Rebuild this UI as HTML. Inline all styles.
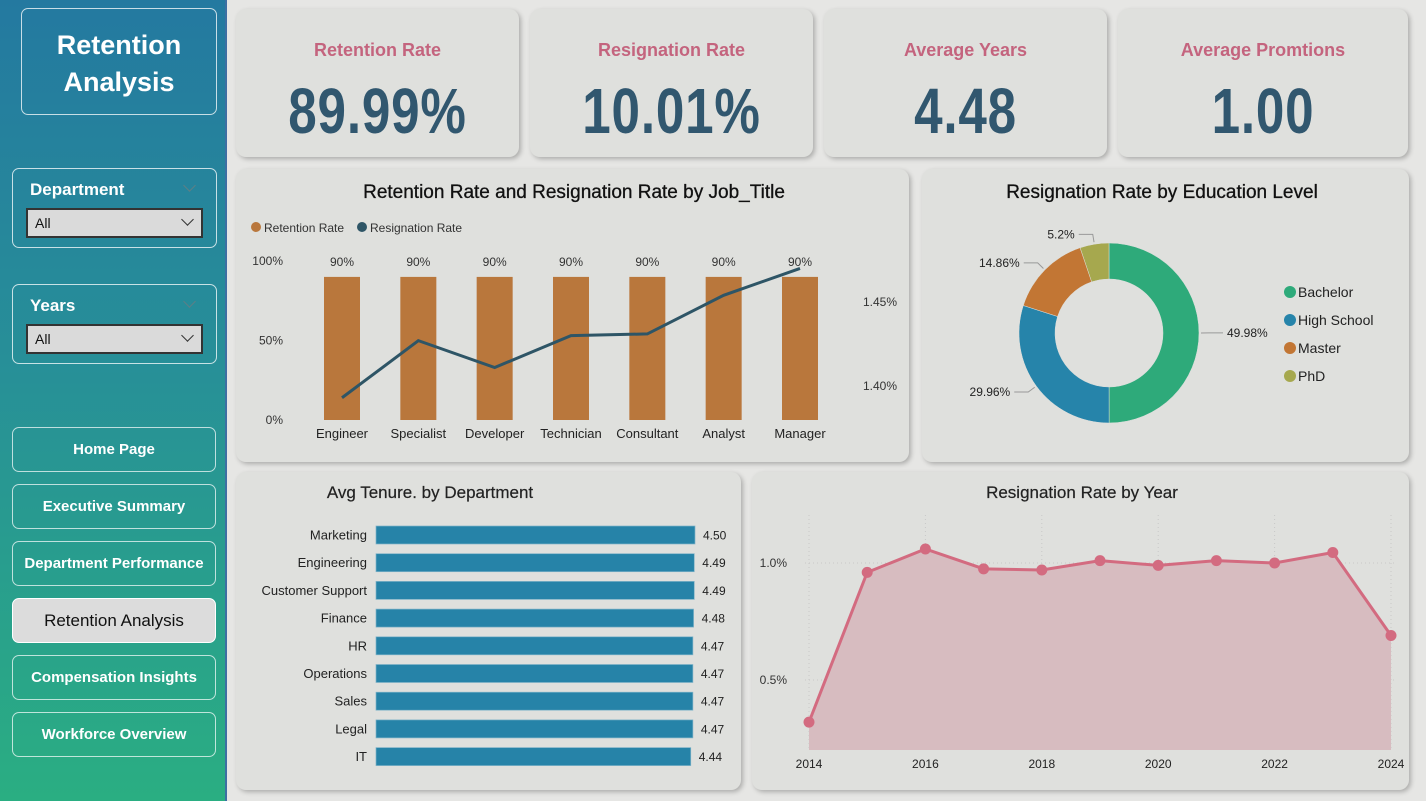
<!DOCTYPE html>
<html><head><meta charset="utf-8">
<style>
*{box-sizing:border-box;margin:0;padding:0}
body{width:1426px;height:801px;overflow:hidden;background:#e6e6e4;font-family:"Liberation Sans",sans-serif;position:relative}
.abs{position:absolute}
#side{left:0;top:0;width:227px;height:801px;background:linear-gradient(180deg,#2479a0 0%,#278f98 45%,#2aae82 100%);border-right:2px solid #3d6fa3}
.box{position:absolute;border:1px solid rgba(255,255,255,.75);border-radius:7px}
.card{position:absolute;background:#dfe0dd;border-radius:10px;box-shadow:2px 2px 5px rgba(0,0,0,.25)}
.kt{position:absolute;left:0;right:0;top:31px;text-align:center;color:#c4647e;font-weight:bold;font-size:18px}
.kv{position:absolute;left:0;right:0;top:64px;text-align:center;color:#31576f;font-weight:bold;font-size:64px;line-height:76px;transform:scaleX(0.8);letter-spacing:1px}
.btn{position:absolute;left:12px;width:204px;height:45px;border:1px solid rgba(255,255,255,.7);border-radius:7px;color:#fff;font-weight:bold;font-size:15px;text-align:center;line-height:44px}
.dd{position:absolute;left:13px;width:177px;height:30px;background:#dadada;border:2px solid #333;font-size:14px;line-height:26px;padding-left:7px;color:#111}
.lab{position:absolute;left:17px;color:#fff;font-weight:bold;font-size:17px}
.chev{position:absolute;width:9px;height:9px;border-right:1.5px solid #333;border-bottom:1.5px solid #333;transform:rotate(45deg)}
svg text{font-family:"Liberation Sans",sans-serif}
</style></head><body>
<div id="side" class="abs">
  <div class="box" style="left:21px;top:8px;width:196px;height:107px">
    <div style="color:#fff;font-weight:bold;font-size:27px;text-align:center;line-height:37px;margin-top:18px">Retention<br>Analysis</div>
  </div>
  <div class="box" style="left:12px;top:168px;width:205px;height:80px">
    <div class="lab" style="top:11px">Department</div>
    <div class="chev" style="right:22px;top:12px;border-color:#5d7f86"></div>
    <div class="dd" style="top:39px">All<span class="chev" style="right:9px;top:5px"></span></div>
  </div>
  <div class="box" style="left:12px;top:284px;width:205px;height:80px">
    <div class="lab" style="top:11px">Years</div>
    <div class="chev" style="right:22px;top:12px;border-color:#5d7f86"></div>
    <div class="dd" style="top:39px">All<span class="chev" style="right:9px;top:5px"></span></div>
  </div>
  <div class="btn" style="top:427px">Home Page</div>
  <div class="btn" style="top:484px">Executive Summary</div>
  <div class="btn" style="top:541px">Department Performance</div>
  <div class="btn" style="top:598px;background:#dcdcdc;color:#111;font-weight:normal;font-size:17px;border-color:#fff">Retention Analysis</div>
  <div class="btn" style="top:655px">Compensation Insights</div>
  <div class="btn" style="top:712px">Workforce Overview</div>
</div>

<div class="card" style="left:236px;top:9px;width:283px;height:148px"><div class="kt">Retention Rate</div><div class="kv">89.99%</div></div>
<div class="card" style="left:530px;top:9px;width:283px;height:148px"><div class="kt">Resignation Rate</div><div class="kv">10.01%</div></div>
<div class="card" style="left:824px;top:9px;width:283px;height:148px"><div class="kt">Average Years</div><div class="kv">4.48</div></div>
<div class="card" style="left:1118px;top:9px;width:290px;height:148px"><div class="kt">Average Promtions</div><div class="kv">1.00</div></div>

<div class="card" style="left:236px;top:169px;width:673px;height:293px"></div>
<div class="card" style="left:922px;top:169px;width:487px;height:293px"></div>
<div class="card" style="left:236px;top:472px;width:505px;height:318px"></div>
<div class="card" style="left:752px;top:472px;width:657px;height:318px"></div>

<svg id="ch" class="abs" style="left:0;top:0" width="1426" height="801">
  <text x="574" y="198" text-anchor="middle" font-size="19" fill="#111" stroke="#111" stroke-width="0.3">Retention Rate and Resignation Rate by Job_Title</text>
  <circle cx="256" cy="227" r="5" fill="#b9773c"/><text x="264" y="232" font-size="12" fill="#333">Retention Rate</text>
  <circle cx="362" cy="227" r="5" fill="#2e5566"/><text x="370" y="232" font-size="12" fill="#333">Resignation Rate</text>
  <text x="1162" y="198" text-anchor="middle" font-size="19" fill="#111" stroke="#111" stroke-width="0.3">Resignation Rate by Education Level</text>
  <text x="430" y="498" text-anchor="middle" font-size="17" fill="#222" stroke="#222" stroke-width="0.2">Avg Tenure. by Department</text>
  <text x="1082" y="498" text-anchor="middle" font-size="17" fill="#222" stroke="#222" stroke-width="0.2">Resignation Rate by Year</text>
  <g id="combo"></g><g id="donut"></g><g id="hbar"></g><g id="line"></g>
</svg>
<script>
const jobTitles=["Engineer","Specialist","Developer","Technician","Consultant","Analyst","Manager"];
const retentionRate=[90,90,90,90,90,90,90];
const resignationRate=[1.393,1.427,1.411,1.430,1.431,1.454,1.470];
const leftTicks=[0,50,100];
const rightTicks=[1.40,1.45];
const eduLevels=["Bachelor","High School","Master","PhD"];
const eduValues=[49.98,29.96,14.86,5.2];
const departments=["Marketing","Engineering","Customer Support","Finance","HR","Operations","Sales","Legal","IT"];
const tenureValues=[4.50,4.49,4.49,4.48,4.47,4.47,4.47,4.47,4.44];
const years=[2014,2015,2016,2017,2018,2019,2020,2021,2022,2023,2024];
const yearRates=[0.32,0.96,1.06,0.975,0.97,1.01,0.99,1.01,1.0,1.045,0.69];
const yearTicks=[0.5,1.0];
const yearLabels=[2014,2016,2018,2020,2022,2024];

const NS="http://www.w3.org/2000/svg";
function mk(p,t,a,txt){const e=document.createElementNS(NS,t);for(const k in a)e.setAttribute(k,a[k]);if(txt!==undefined)e.textContent=txt;p.appendChild(e);return e;}

(function(){
const g=document.getElementById('combo');
const x=i=>342+i*(800-342)/(jobTitles.length-1);
const yL=v=>420-v*(420-261)/100;
const yR=v=>386-(v-1.40)*(386-302)/0.05;
leftTicks.forEach(t=>{const e=mk(g,'text',{x:283,y:yL(t)+4,'text-anchor':'end','font-size':12,fill:'#333'},t+'%');});
rightTicks.forEach(t=>{const e=mk(g,'text',{x:863,y:yR(t)+4,'font-size':12,fill:'#333'},t.toFixed(2)+'%');});
jobTitles.forEach((c,i)=>{
 const b=mk(g,'rect',{x:x(i)-18,y:yL(retentionRate[i]),width:36,height:yL(0)-yL(retentionRate[i]),fill:'#b9773c'});
 
 const l=mk(g,'text',{x:x(i),y:yL(retentionRate[i])-11,'text-anchor':'middle','font-size':12,fill:'#333'},retentionRate[i]+'%');
 
 const c2=mk(g,'text',{x:x(i),y:438,'text-anchor':'middle','font-size':13,fill:'#222'},c);
 
});
const p=mk(g,'polyline',{points:resignationRate.map((v,i)=>x(i)+','+yR(v)).join(' '),fill:'none',stroke:'#2e5566','stroke-width':3});

})();

(function(){
const g=document.getElementById('donut');
const cx=1109,cy=333,R=90,r=54;const cols=['#2eaa7a','#2684aa','#c27634','#a6a84e'];
const tot=eduValues.reduce((a,b)=>a+b,0);let a0=0;
const pt=(a,rr)=>[cx+rr*Math.sin(a),cy-rr*Math.cos(a)];
eduValues.forEach((v,i)=>{
 const a1=a0+v/tot*2*Math.PI;const lg=(a1-a0)>Math.PI?1:0;
 const p1=pt(a0,R),p2=pt(a1,R),p3=pt(a1,r),p4=pt(a0,r);
 const s=mk(g,'path',{d:`M${p1}A${R},${R} 0 ${lg} 1 ${p2}L${p3}A${r},${r} 0 ${lg} 0 ${p4}Z`,fill:cols[i],stroke:'#dfe0dd','stroke-width':0.5});
 
 const am=(a0+a1)/2;const q=pt(am,R+2),q2=pt(am,R+10);const right=Math.sin(am)>0;
 const ex=q2[0]+(right?14:-14);
 mk(g,'polyline',{points:`${q} ${q2} ${ex},${q2[1]}`,fill:'none',stroke:'#999','stroke-width':1});
 const t=mk(g,'text',{x:ex+(right?4:-4),y:q2[1]+4,'text-anchor':right?'start':'end','font-size':12,fill:'#222'},v+'%');
 
 a0=a1;
 mk(g,'circle',{cx:1290,cy:292+i*28,r:6,fill:cols[i]});
 const lt=mk(g,'text',{x:1298,y:297+i*28,'font-size':14,fill:'#222'},eduLevels[i]);
 
});
})();

(function(){
const g=document.getElementById('hbar');
const x=v=>376+v*(695-376)/4.5;
const y=i=>535+i*27.7;
departments.forEach((d,i)=>{
 const l=mk(g,'text',{x:367,y:y(i)+4.5,'text-anchor':'end','font-size':13,fill:'#222'},d);
 
 const b=mk(g,'rect',{x:376,y:y(i)-9,width:x(tenureValues[i])-376,height:18,fill:'#2683a8',stroke:'#7fb3c8','stroke-width':0.7});
 
 const v=mk(g,'text',{x:x(tenureValues[i])+8,y:y(i)+4.5,'font-size':12,fill:'#222'},tenureValues[i].toFixed(2));
 
});
})();

(function(){
const g=document.getElementById('line');
const x=v=>809+(v-2014)*(1391-809)/10;
const y=v=>680-(v-0.5)*(680-563)/0.5;
const yb=750;
yearTicks.forEach(t=>{mk(g,'line',{x1:805,x2:1395,y1:y(t),y2:y(t),stroke:'#c8c8c8','stroke-dasharray':'1 3'});
 const e=mk(g,'text',{x:787,y:y(t)+4,'text-anchor':'end','font-size':12,fill:'#333'},t.toFixed(1)+'%');});
yearLabels.forEach(t=>{mk(g,'line',{x1:x(t),x2:x(t),y1:515,y2:yb,stroke:'#c8c8c8','stroke-dasharray':'1 3'});
 const e=mk(g,'text',{x:x(t),y:768,'text-anchor':'middle','font-size':12,fill:'#222'},t);});
const pts=yearRates.map((v,i)=>x(years[i])+','+y(v));
const a=mk(g,'polygon',{points:x(years[0])+','+yb+' '+pts.join(' ')+' '+x(years[years.length-1])+','+yb,fill:'#d7bcc0'});

const l=mk(g,'polyline',{points:pts.join(' '),fill:'none',stroke:'#d36b80','stroke-width':3});

yearRates.forEach((v,i)=>{const c=mk(g,'circle',{cx:x(years[i]),cy:y(v),r:5.5,fill:'#d36b80'});});
})();
</script>
</body></html>
